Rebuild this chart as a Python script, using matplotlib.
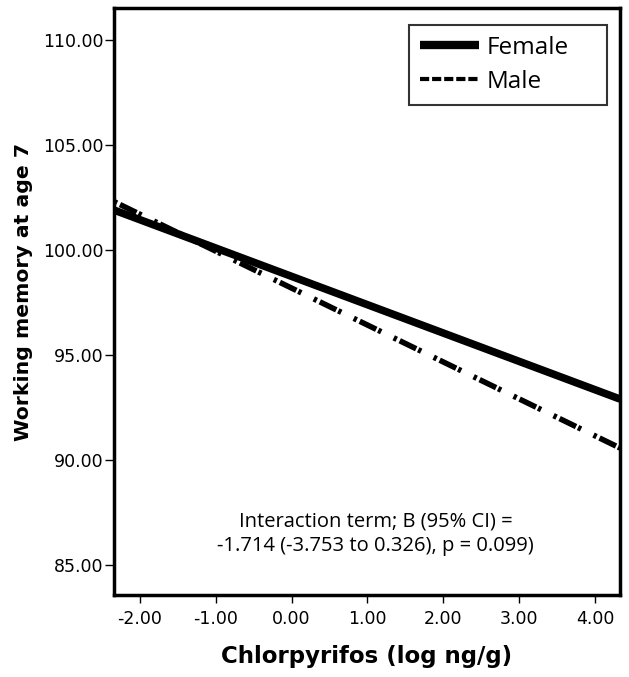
import numpy as np
import matplotlib.pyplot as plt
from matplotlib.lines import Line2D

# fitted line ends
x_ends = [-2.34, 4.33]
female_y = [101.9, 92.9]
male_y = [102.3, 90.57]

xticks = [-2, -1, 0, 1, 2, 3, 4]
yticks = [85, 90, 95, 100, 105, 110]

note = "Interaction term; B (95% CI) =\n-1.714 (-3.753 to 0.326), p = 0.099)"

plt.rcParams['font.family'] = ['DejaVu Sans']

fig = plt.figure(figsize=(6.29, 6.77), dpi=100)
# axes frame: x 114..620 px, y 8..595 px
ax = fig.add_axes([114 / 629, 1 - 595 / 677, 506 / 629, 587 / 677])

ax.plot(x_ends, female_y, color='black', lw=5.5, solid_capstyle='butt')
ax.plot(x_ends, male_y, color='black', lw=4,
        linestyle=(0, (0.6, 0.6, 3.3, 0.4, 0.6, 2.5)))

ax.set_xlim(x_ends[0], x_ends[1])
ax.set_ylim(83.57, 111.52)
ax.set_xticks(xticks)
ax.set_yticks(yticks)
ax.set_xticklabels(['%.2f' % v for v in xticks], fontsize=12.5)
ax.set_yticklabels(['%.2f' % v for v in yticks], fontsize=12.5)
ax.tick_params(axis='x', direction='out', length=6, width=1, pad=5)
ax.tick_params(axis='y', direction='out', length=6.5, width=1, pad=1)
for s in ax.spines.values():
    s.set_linewidth(2.5)

ax.set_xlabel('Chlorpyrifos (log ng/g)', fontsize=16.5, fontweight='bold', labelpad=12)
ax.set_ylabel('Working memory at age 7', fontsize=14.7, fontweight='bold')
ax.yaxis.set_label_coords(-0.16, 0.516)

ax.text(1.11, 86.48, note, ha='center', va='center', fontsize=14.5,
        family=['Open Sans', 'DejaVu Sans'], linespacing=1.3)

handles = [Line2D([], [], color='black', lw=6, solid_capstyle='butt'),
           Line2D([], [], color='black', lw=3, linestyle=(0, (2.2, 0.7)))]
leg = ax.legend(handles, ['Female', 'Male'], loc='upper left',
                bbox_to_anchor=(0.583, 0.5, 0.391, 0.471), mode='expand',
                borderaxespad=0, frameon=True, fancybox=False,
                edgecolor='black', handlelength=2.43, handletextpad=0.33,
                borderpad=0.45, labelspacing=0.4,
                prop={'family': ['Open Sans', 'DejaVu Sans'], 'size': 17.5})
leg.get_frame().set_linewidth(1.5)

fig.savefig('out.png', dpi=100)
